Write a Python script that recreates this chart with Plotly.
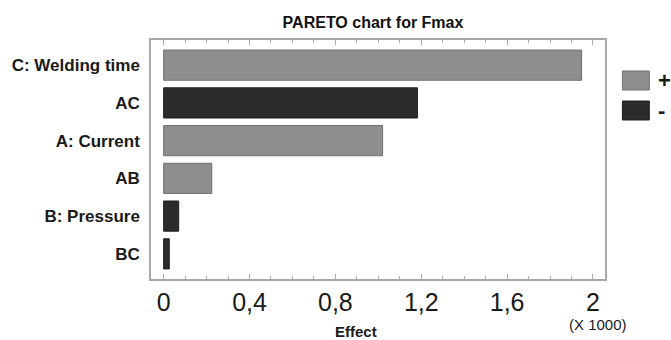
import plotly.graph_objects as go

# Standardized effects of the factors on Fmax (sorted by magnitude)
factors = ["C: Welding time", "AC", "A: Current", "AB", "B: Pressure", "BC"]
effects = [1947, 1182, 1020, 224, 70, 26]
signs = ["+", "-", "+", "+", "-", "-"]

x_ticks = [0, 0.4, 0.8, 1.2, 1.6, 2.0]
scale = 1000.0

FONT = "Liberation Sans, Arial, Helvetica, sans-serif"
LIGHT, LIGHT_EDGE = "#8e8e8e", "#6f6f6f"
DARK, DARK_EDGE = "#2b2b2b", "#1e1e1e"
FRAME = "#a8a8a8"

fig = go.Figure()
for sign, fill, edge in [("+", LIGHT, LIGHT_EDGE), ("-", DARK, DARK_EDGE)]:
    ys = [f for f, s in zip(factors, signs) if s == sign]
    xs = [e / scale for e, s in zip(effects, signs) if s == sign]
    fig.add_trace(go.Bar(
        x=xs, y=ys, orientation="h", name=sign, width=0.8,
        marker=dict(color=fill, line=dict(color=edge, width=1)),
        showlegend=False,
    ))

W, H = 671, 340
fig.update_layout(
    width=W, height=H,
    margin=dict(l=149, r=66, t=40, b=61),
    paper_bgcolor="white", plot_bgcolor="white",
    barmode="overlay",
    separators=", ",
    title=dict(
        text="PARETO chart for Fmax",
        font=dict(family=FONT, size=16, color="#111", weight="bold"),
        x=373 / W, xanchor="center", xref="container",
        y=1 - 22.5 / H, yanchor="middle", yref="container",
    ),
    xaxis=dict(
        range=[-0.059, 2.056],
        tickvals=x_ticks,
        ticks="inside", ticklen=5, tickwidth=1, tickcolor=FRAME,
        minor=dict(dtick=0.1, tick0=0, ticks="inside", ticklen=3,
                   tickwidth=1, tickcolor=FRAME),
        showline=True, linecolor=FRAME, linewidth=1.5, mirror="allticks",
        showgrid=False, zeroline=False,
        tickfont=dict(family=FONT, size=25, color="#1a1a1a"),
        ticklabelstandoff=0,
    ),
    yaxis=dict(
        categoryorder="array", categoryarray=factors,
        range=[len(factors) - 1 + 2 / 3, -2 / 3],
        showline=True, linecolor=FRAME, linewidth=1.5, mirror=True,
        ticks="", showgrid=False, zeroline=False,
        tickfont=dict(family=FONT, size=17, color="#1a1a1a", weight="bold"),
        ticklabelstandoff=6,
    ),
)

# Sign legend drawn as swatches beside the plot area
legend_items = [("+", LIGHT, LIGHT_EDGE, 80.5), ("-", DARK, DARK_EDGE, 110.5)]
for label, fill, edge, yc in legend_items:
    fig.add_shape(
        type="rect", xref="paper", yref="paper",
        x0=(622.5 - 149) / 456, x1=(649.5 - 149) / 456,
        y0=(279 - (yc + 9.5)) / 239, y1=(279 - (yc - 9.5)) / 239,
        fillcolor=fill, line=dict(color=edge, width=1),
    )
    fig.add_annotation(
        text=label, xref="paper", yref="paper",
        x=(656 - 149) / 456, xanchor="left",
        y=(279 - yc) / 239, yanchor="middle",
        showarrow=False,
        font=dict(family=FONT, size=22, color="#1a1a1a", weight="bold"),
    )

fig.add_annotation(
    text="(X 1000)", xref="paper", yref="paper",
    x=(598 - 149) / 456, xanchor="center",
    y=(279 - 324.5) / 239, yanchor="middle",
    showarrow=False, font=dict(family=FONT, size=15, color="#1a1a1a"),
)
fig.add_annotation(
    text="Effect", xref="paper", yref="paper",
    x=(354.5 - 149) / 456, xanchor="center",
    y=(279 - 331.5) / 239, yanchor="middle",
    showarrow=False,
    font=dict(family=FONT, size=15, color="#1a1a1a", weight="bold"),
)

fig.write_html("out.html")
